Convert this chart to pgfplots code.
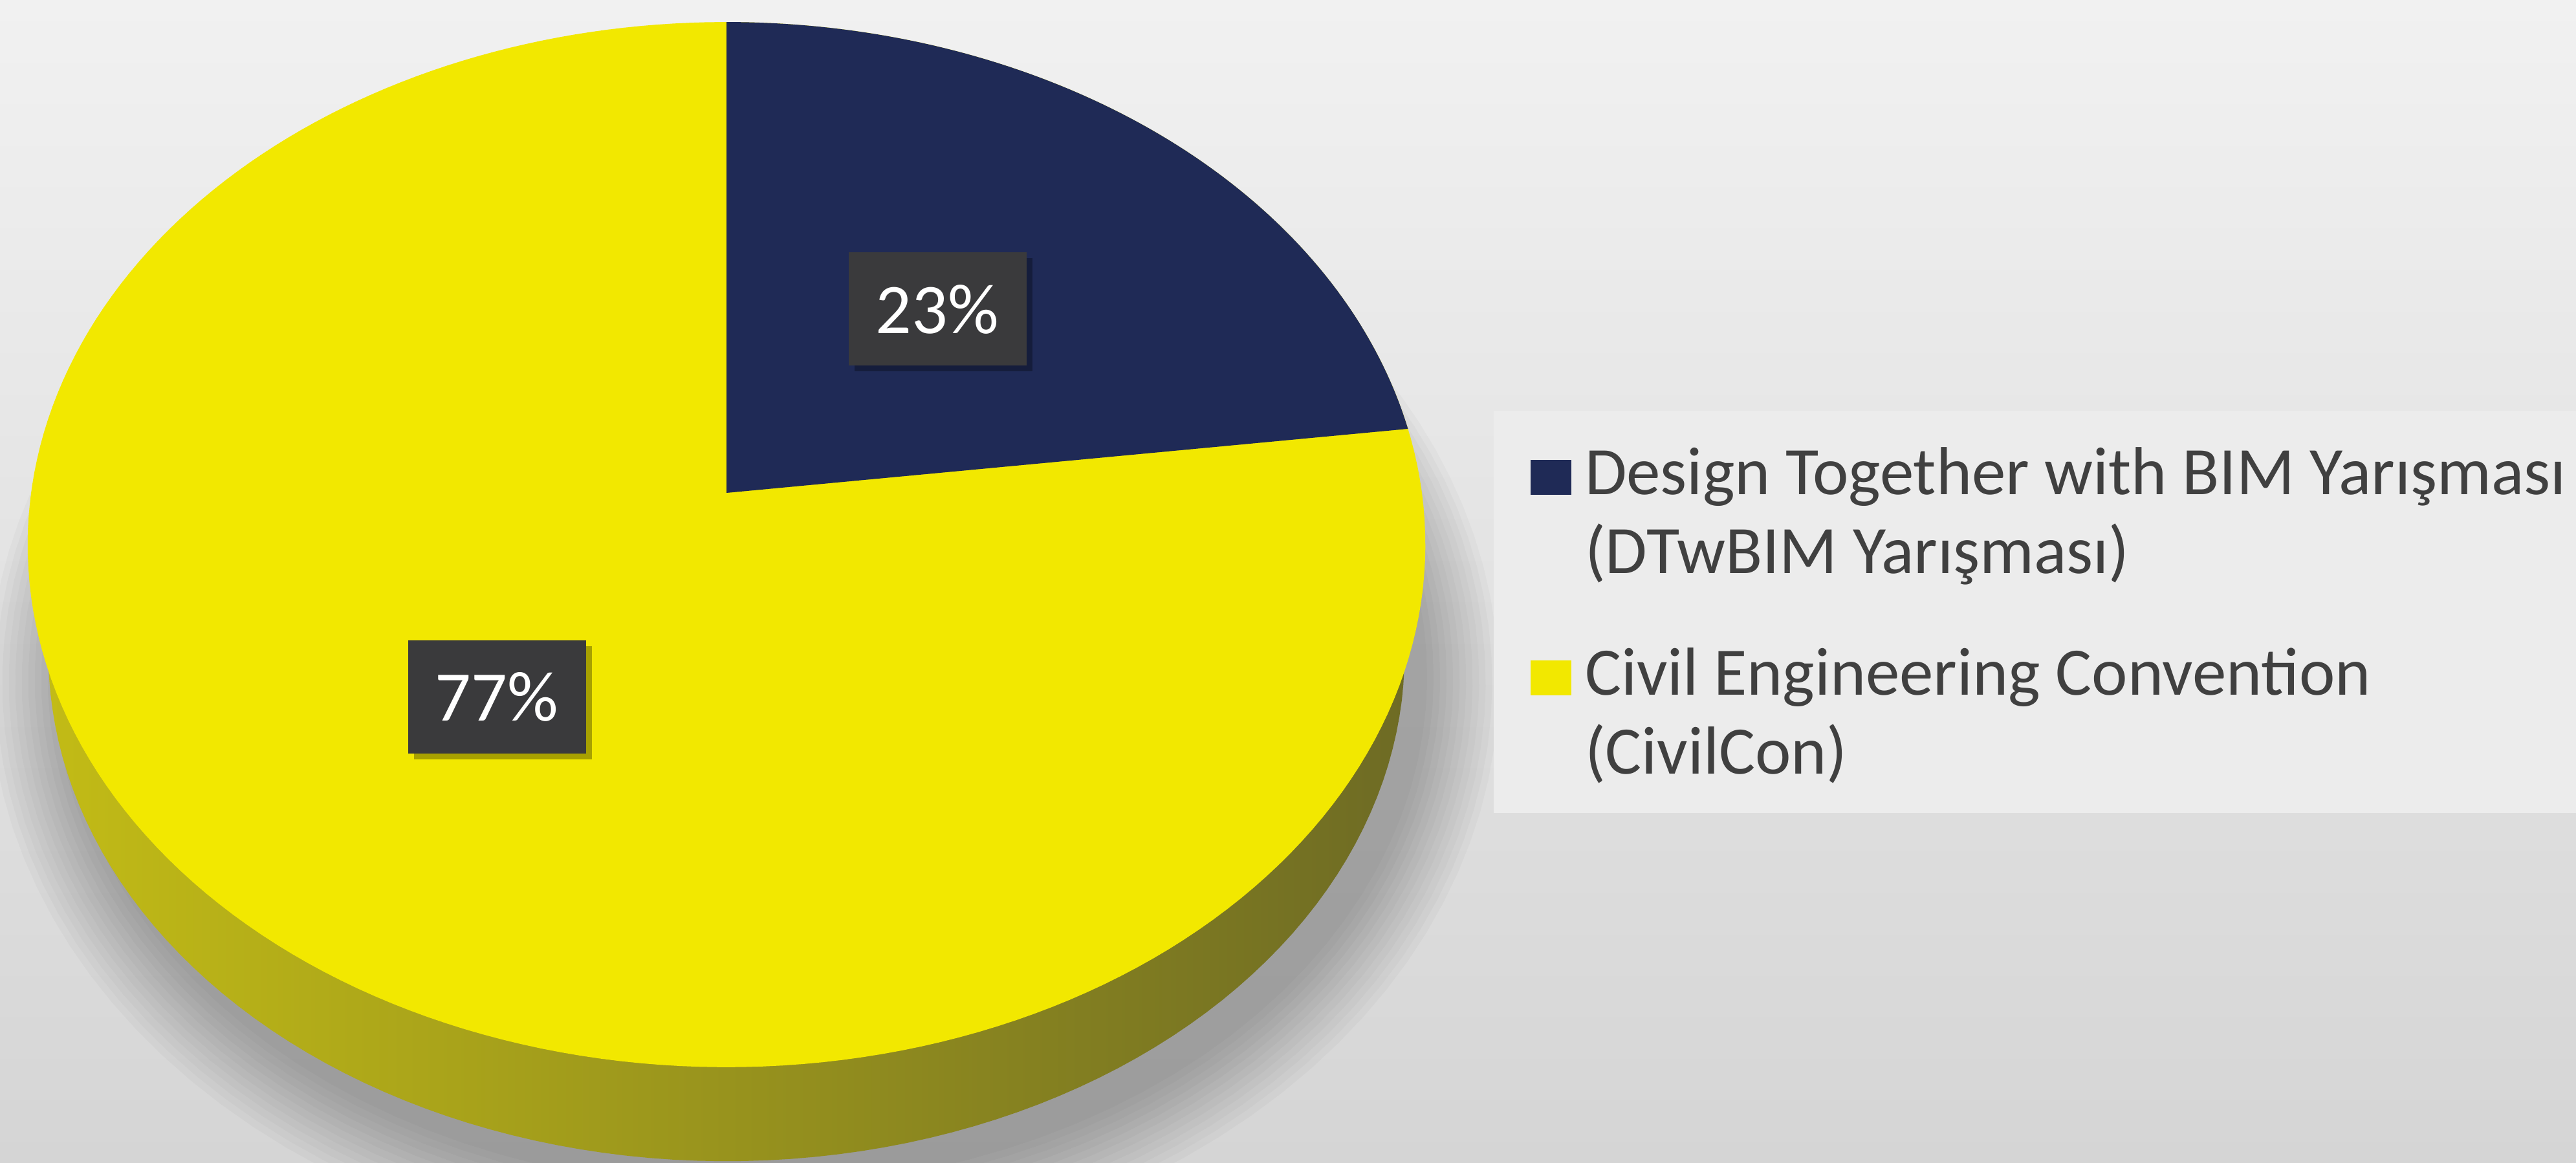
\documentclass[border=0pt]{standalone}
\usepackage{fontspec}
\setmainfont{Carlito}
\usepackage{pgfplots}
\usepackage{pgfplotstable}
\pgfplotsset{compat=1.18}
\usetikzlibrary{shadows}

\definecolor{yellowc}{RGB}{242,232,0}
\definecolor{navyc}{RGB}{31,42,86}
\definecolor{boxc}{RGB}{58,58,60}
\definecolor{legtext}{RGB}{64,64,64}
\definecolor{sideL}{RGB}{194,187,22}
\definecolor{sideM}{RGB}{111,108,34}
\definecolor{sideR}{RGB}{110,107,36}
\definecolor{bgtop}{RGB}{241,241,241}
\definecolor{bgbot}{RGB}{213,213,213}
\definecolor{legbg}{RGB}{236,236,236}

\pgfplotstableread{
label value
DTwBIM 23
CivilCon 77
}\piedata
\pgfplotstablegetelem{0}{value}\of\piedata
\pgfmathsetmacro{\angA}{3.6*\pgfplotsretval}

\begin{document}
\begin{tikzpicture}
\shade[top color=bgtop, bottom color=bgbot] (0,0) rectangle (398.2pt,179.7pt);
\begin{axis}[
  hide axis, scale only axis,
  width=398.2pt, height=179.7pt,
  xmin=0, xmax=3982, ymin=0, ymax=1797,
  declare function={
    Dk(\t)=1+0.099*sin(\t);
    tx(\t)=1123+1075*cos(\t)/Dk(\t);
    ty(\t)=1035+800*sin(\t)/Dk(\t);
    bx(\t)=1123+1043*cos(\t)/Dk(\t);
    by(\t)=863+776*sin(\t)/Dk(\t);
    sx(\t,\s)=1150+(1043+\s)*cos(\t)/Dk(\t);
    sy(\t,\s)=830+(776+\s)*sin(\t)/Dk(\t);
  },
  legend image code/.code={\fill[#1, draw=none] (0pt,12.2pt) rectangle (6.3pt,17.6pt);},
  legend style={at={(axis cs:2366,1105)}, anchor=north west, draw=none, fill=none,
    inner sep=0pt, outer sep=0pt, row sep=10pt, column sep=2.1pt,
    font=\fontsize{10.5}{12.2}\selectfont, text=legtext,
    cells={anchor=base west}, nodes={align=left, inner sep=0pt}},
]
% soft shadow
\pgfplotsinvokeforeach{8,18,28,38,48,58,68,78,88,98,108,118}{
\addplot[forget plot, draw=none, fill=black, fill opacity=0.022, domain=0:360, samples=120, variable=\t]
  ({sx(\t,#1)},{sy(\t,#1)}) -- cycle;
}
% side (bottom face)
\addplot[forget plot, draw=none, left color=sideL, middle color=sideM, right color=sideR, domain=0:360, samples=200, variable=\t]
  ({bx(\t)},{by(\t)}) -- cycle;
% top face
\addplot[forget plot, draw=none, fill=yellowc, domain=0:360, samples=240, variable=\t]
  ({tx(\t)},{ty(\t)}) -- cycle;
% 23% wedge
\addplot[forget plot, draw=none, fill=navyc, domain={90-\angA}:90, samples=80, variable=\t]
  ({tx(\t)},{ty(\t)}) -- (axis cs:1123,1035) -- cycle;
% data labels
\addplot[forget plot, draw=none, nodes near coords, point meta=explicit symbolic,
  nodes near coords style={anchor=center, fill=boxc, text=white, inner sep=0pt,
    minimum width=27.5pt, minimum height=17.5pt, font=\fontsize{11}{13}\selectfont,
    general shadow={fill=black, opacity=0.3, shadow xshift=0.9pt, shadow yshift=-0.9pt}}]
  coordinates {(1449,1319) [23\%] (768,720) [77\%]};
% legend background
\fill[legbg] (axis cs:2309,540) rectangle (axis cs:3982,1162);
\addlegendimage{fill=navyc}
\addlegendentry{Design Together with BIM Yarışması\\(DTwBIM Yarışması)}
\addlegendimage{fill=yellowc}
\addlegendentry{Civil Engineering Convention\\(CivilCon)}
\end{axis}
\end{tikzpicture}
\end{document}
